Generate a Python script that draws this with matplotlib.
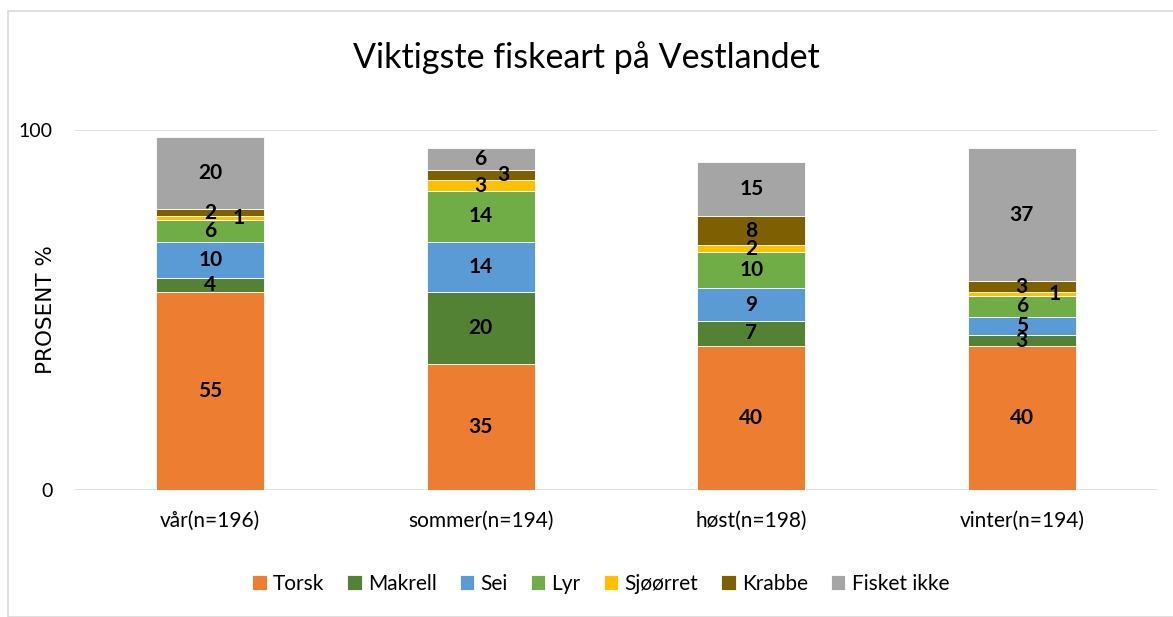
import numpy as np
import matplotlib.pyplot as plt
from matplotlib.patches import Rectangle

plt.rcParams['font.family'] = ['Lato', 'DejaVu Sans']

# data
seasons = ['vår(n=196)', 'sommer(n=194)', 'høst(n=198)', 'vinter(n=194)']
species = ['Torsk', 'Makrell', 'Sei', 'Lyr', 'Sjøørret', 'Krabbe', 'Fisket ikke']
torsk = [55, 35, 40, 40]
makrell = [4, 20, 7, 3]
sei = [10, 14, 9, 5]
lyr = [6, 14, 10, 6]
sjoorret = [1, 3, 2, 1]
krabbe = [2, 3, 8, 3]
fisket_ikke = [20, 6, 15, 37]
values = [torsk, makrell, sei, lyr, sjoorret, krabbe, fisket_ikke]

colors = ['#ED7D31', '#548235', '#5B9BD5', '#70AD47', '#FFC000', '#7F6000', '#A5A5A5']

# labels that were nudged sideways in the original (season idx, species idx) -> dx
nudged = {(0, 4): 0.105, (1, 5): 0.085, (3, 4): 0.12}

fig = plt.figure(figsize=(11.73, 6.17), dpi=100)
ax = fig.add_axes([0.0639, 0.2058, 0.9225, 0.5835])

x = np.arange(len(seasons))
bottom = np.zeros(len(seasons))
for j, (name, vals) in enumerate(zip(species, values)):
    vals = np.array(vals, dtype=float)
    ax.bar(x, vals, width=0.4, bottom=bottom, color=colors[j], label=name,
           edgecolor='white', linewidth=0.6, zorder=3)
    for i in range(len(seasons)):
        dx = nudged.get((i, j), 0.0)
        ax.text(x[i] + dx, bottom[i] + vals[i] / 2, str(int(vals[i])),
                ha='center', va='center', fontsize=15, fontweight='bold',
                color='black', zorder=4)
    bottom += vals

ax.set_xlim(-0.5, 3.5)
ax.set_ylim(0, 100)
ax.set_yticks([0, 100])
ax.set_xticks(x)
ax.set_xticklabels(seasons, fontsize=15)
ax.tick_params(axis='y', labelsize=14, length=0, pad=16)
ax.tick_params(axis='x', length=0, pad=15)
for s in ax.spines.values():
    s.set_visible(False)
ax.yaxis.grid(True, color='#D9D9D9', linewidth=1.2, zorder=0)
ax.set_axisbelow(True)
ax.set_ylabel('PROSENT %', fontsize=15.5, family=['DejaVu Sans'])
ax.yaxis.set_label_coords(-0.0176, 0.5)

fig.text(0.5, 1 - 58 / 617, 'Viktigste fiskeart på Vestlandet', ha='center',
         va='center', fontsize=24.5)

fig.legend(loc='center', bbox_to_anchor=(0.512, 1 - 584 / 617), ncol=7,
           frameon=False, fontsize=15, handlelength=0.7, handleheight=0.7,
           handletextpad=0.3, columnspacing=1.1)

fig.patches.append(Rectangle((8 / 1173, 0), 1.2, 1 - 11 / 617, transform=fig.transFigure,
                             fill=False, edgecolor='#D9D9D9', linewidth=1.2))

plt.savefig('out.png')
